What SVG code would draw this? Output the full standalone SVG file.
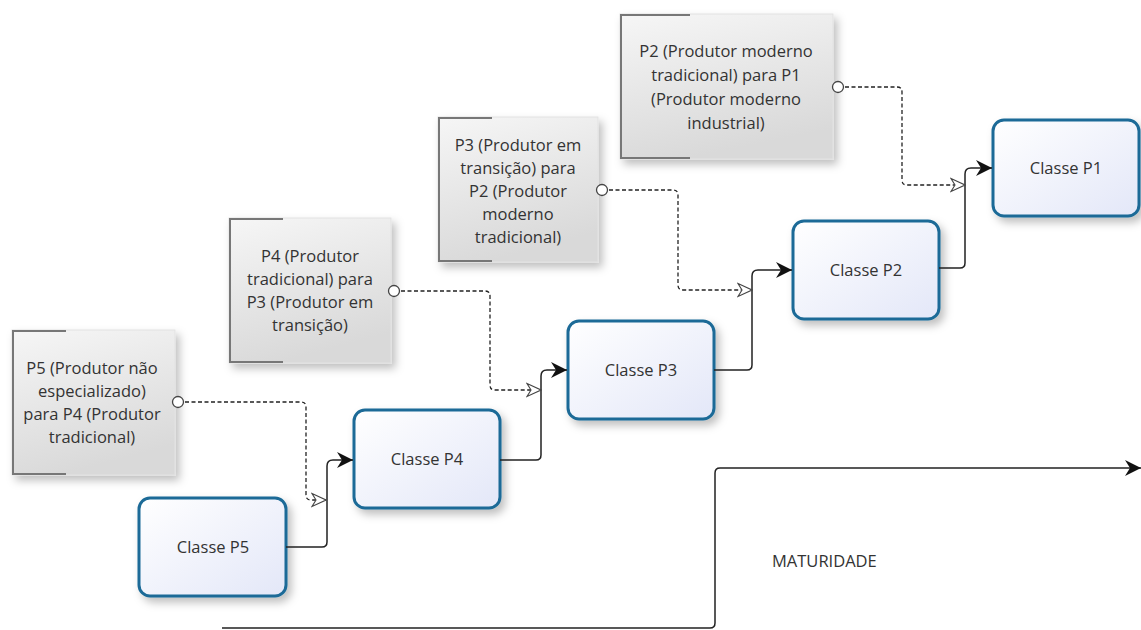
<svg xmlns="http://www.w3.org/2000/svg" width="1141" height="630" viewBox="0 0 1141 630">
<defs>
<linearGradient id="noteFill" x1="0" y1="0" x2="0.3" y2="1">
<stop offset="0" stop-color="#f6f6f6"/>
<stop offset="1" stop-color="#d9d9d9"/>
</linearGradient>
<linearGradient id="classFill" x1="0" y1="0" x2="1" y2="1">
<stop offset="0" stop-color="#ffffff"/>
<stop offset="1" stop-color="#e3e7f8"/>
</linearGradient>
<filter id="shadow" x="-20%" y="-20%" width="150%" height="150%">
<feDropShadow dx="4" dy="5" stdDeviation="4" flood-color="#000" flood-opacity="0.25"/>
</filter>
<marker id="solidArrow" viewBox="0 0 16 16" refX="16" refY="8" markerWidth="16" markerHeight="16" markerUnits="userSpaceOnUse" orient="auto">
<path d="M0,0 L16,8 L0,16 L5,8 Z" fill="#111"/>
</marker>
<marker id="openArrow" viewBox="0 0 16 16" refX="15" refY="8" markerWidth="16" markerHeight="16" markerUnits="userSpaceOnUse" orient="auto">
<path d="M1,1.5 L15,8 L1,14.5 L5,8 Z" fill="#fff" stroke="#444" stroke-width="1.1"/>
</marker>
<marker id="circleStart" viewBox="0 0 14 14" refX="1" refY="7" markerWidth="14" markerHeight="14" markerUnits="userSpaceOnUse" orient="auto">
<circle cx="7" cy="7" r="5.5" fill="#fff" stroke="#444" stroke-width="1.3"/>
</marker>
</defs>
<style>
.note rect.body{fill:url(#noteFill);stroke:#e2e2e2;stroke-width:1;filter:url(#shadow)}
.note path.bracket{fill:none;stroke:#777;stroke-width:2}
.note text{font-family:"Open Sans","Noto Sans","Liberation Sans",sans-serif;font-size:16.5px;fill:#333;text-anchor:middle}
.cls rect{fill:url(#classFill);stroke:#1b6a97;stroke-width:3;filter:url(#shadow)}
.cls text{font-family:"Open Sans","Noto Sans","Liberation Sans",sans-serif;font-size:16.5px;fill:#333;text-anchor:middle}
.flow{fill:none;stroke:#222;stroke-width:1.5}
.assoc{fill:none;stroke:#222;stroke-width:1.3;stroke-dasharray:4,2.5}
.label{font-family:"Open Sans","Noto Sans","Liberation Sans",sans-serif;font-size:16.5px;fill:#333}
</style>

<g id="note-p5" class="note">
<rect class="body" x="12" y="330" width="163" height="145"/>
<path class="bracket" d="M66,331 L13,331 L13,474 L66,474"/>
<text x="92" y="374">P5 (Produtor não</text>
<text x="92" y="397">especializado)</text>
<text x="92" y="420">para P4 (Produtor</text>
<text x="92" y="443">tradicional)</text>
</g>

<g id="note-p4" class="note">
<rect class="body" x="229" y="218" width="162" height="145"/>
<path class="bracket" d="M283,219 L230,219 L230,362 L283,362"/>
<text x="310" y="262">P4 (Produtor</text>
<text x="310" y="285">tradicional) para</text>
<text x="310" y="308">P3 (Produtor em</text>
<text x="310" y="331">transição)</text>
</g>

<g id="note-p3" class="note">
<rect class="body" x="438" y="117" width="160" height="145"/>
<path class="bracket" d="M492,118 L439,118 L439,261 L492,261"/>
<text x="518" y="151">P3 (Produtor em</text>
<text x="518" y="174">transição) para</text>
<text x="518" y="197">P2 (Produtor</text>
<text x="518" y="220">moderno</text>
<text x="518" y="243">tradicional)</text>
</g>

<g id="note-p2" class="note">
<rect class="body" x="620" y="14" width="213" height="145"/>
<path class="bracket" d="M690,15 L621,15 L621,158 L690,158"/>
<text x="726" y="57">P2 (Produtor moderno</text>
<text x="726" y="81">tradicional) para P1</text>
<text x="726" y="105">(Produtor moderno</text>
<text x="726" y="129">industrial)</text>
</g>

<g id="class-p5" class="cls">
<rect x="139" y="498" width="147" height="98" rx="11"/>
<text x="213" y="553">Classe P5</text>
</g>
<g id="class-p4" class="cls">
<rect x="354" y="410" width="146" height="98" rx="11"/>
<text x="427" y="465">Classe P4</text>
</g>
<g id="class-p3" class="cls">
<rect x="568" y="321" width="146" height="98" rx="11"/>
<text x="641" y="376">Classe P3</text>
</g>
<g id="class-p2" class="cls">
<rect x="793" y="221" width="146" height="98" rx="11"/>
<text x="866" y="276">Classe P2</text>
</g>
<g id="class-p1" class="cls">
<rect x="993" y="120" width="146" height="96" rx="11"/>
<text x="1066" y="174">Classe P1</text>
</g>

<g id="connectors">
<path class="flow" d="M286,547 L322,547 Q327,547 327,542 L327,466 Q327,460 333,460 L353,460" marker-end="url(#solidArrow)"/>
<path class="flow" d="M500,460 L536,460 Q541,460 541,455 L541,376 Q541,370 547,370 L567,370" marker-end="url(#solidArrow)"/>
<path class="flow" d="M714,370 L747,370 Q752,370 752,365 L752,276 Q752,270 758,270 L792,270" marker-end="url(#solidArrow)"/>
<path class="flow" d="M939,268 L960,268 Q965,268 965,263 L965,174 Q965,168 971,168 L992,168" marker-end="url(#solidArrow)"/>

<path class="assoc" d="M172,402 L301,402 Q306,402 306,407 L306,495 Q306,500 311,500 L326,500" marker-start="url(#circleStart)" marker-end="url(#openArrow)"/>
<path class="assoc" d="M388,291 L485,291 Q490,291 490,296 L490,385 Q490,390 495,390 L541,390" marker-start="url(#circleStart)" marker-end="url(#openArrow)"/>
<path class="assoc" d="M596,190 L673,190 Q678,190 678,195 L678,285 Q678,290 683,290 L752,290" marker-start="url(#circleStart)" marker-end="url(#openArrow)"/>
<path class="assoc" d="M832,87 L897,87 Q902,87 902,92 L902,180 Q902,185 907,185 L965,185" marker-start="url(#circleStart)" marker-end="url(#openArrow)"/>

<path class="flow" d="M222,628 L710,628 Q715,628 715,623 L715,473 Q715,468 720,468 L1141,468" marker-end="url(#solidArrow)"/>
</g>

<text id="maturidade" class="label" x="772" y="567">MATURIDADE</text>
</svg>
